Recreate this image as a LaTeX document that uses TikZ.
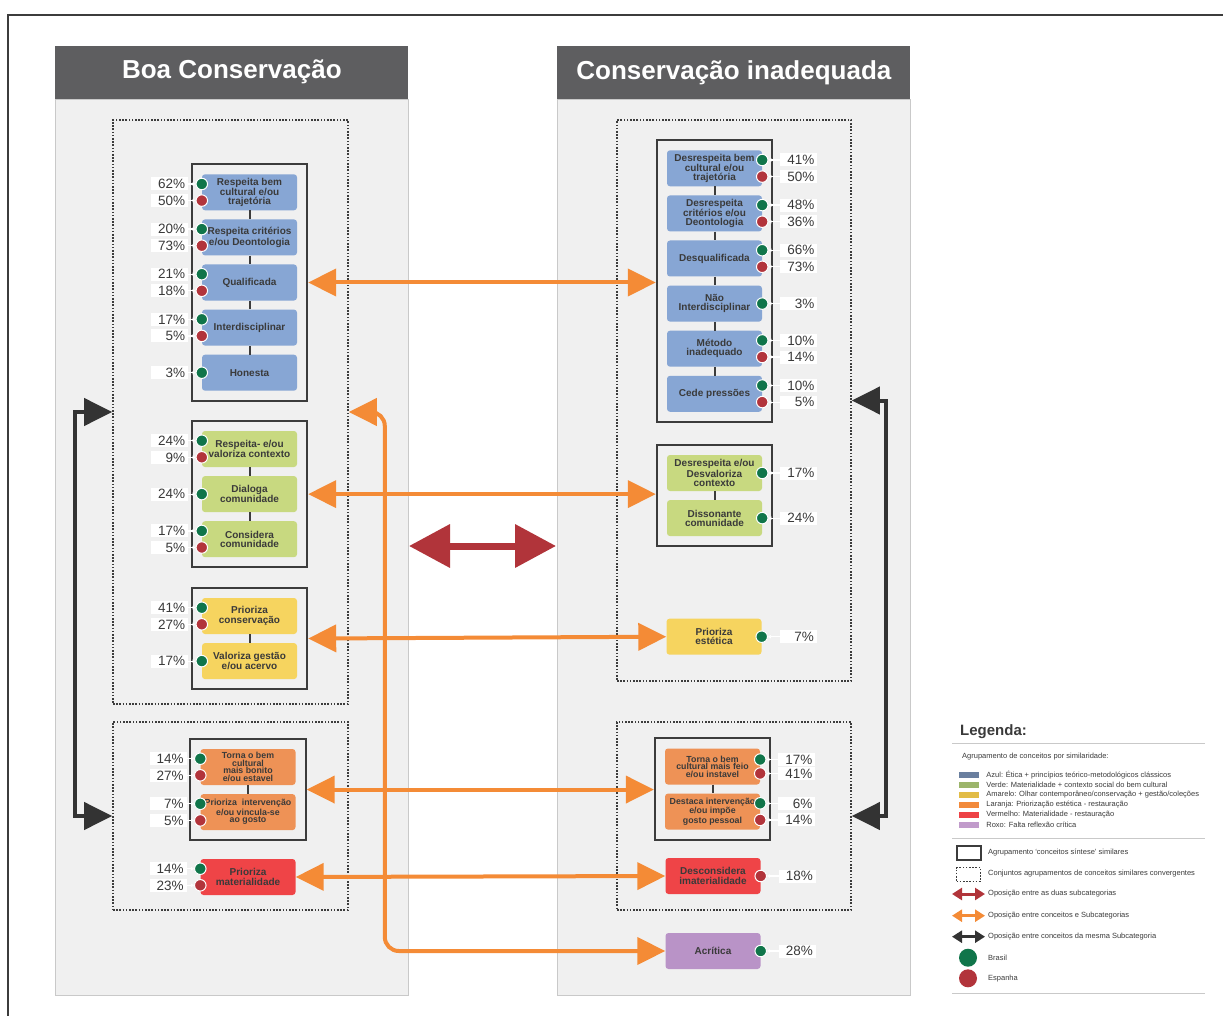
\documentclass[tikz,border=0pt]{standalone}
\usepackage{fontspec}
\setmainfont{Liberation Sans}
\usetikzlibrary{positioning,arrows.meta,calc,fit}
\definecolor{hdrGrey}{HTML}{5E5E60}
\definecolor{pnlGrey}{HTML}{F0F0F0}
\definecolor{pnlEdge}{HTML}{C9C9C9}
\definecolor{frmDark}{HTML}{3C3C3C}
\definecolor{txtDark}{HTML}{3A3A3A}
\definecolor{cBlue}{HTML}{87A6D4}
\definecolor{cGreen}{HTML}{C8D980}
\definecolor{cYellow}{HTML}{F6D45F}
\definecolor{cOrange}{HTML}{EE9256}
\definecolor{cRed}{HTML}{EF4447}
\definecolor{cPurple}{HTML}{B993C7}
\definecolor{dotG}{HTML}{10754A}
\definecolor{dotR}{HTML}{B2343B}
\definecolor{arrOrange}{HTML}{F48B36}
\definecolor{arrRed}{HTML}{B1343A}
\definecolor{arrDark}{HTML}{333333}
\definecolor{swBlue}{HTML}{6A7F9F}
\definecolor{swGreen}{HTML}{9CB56B}
\definecolor{swYellow}{HTML}{E2BC46}
\definecolor{swOrange}{HTML}{F28A3B}
\definecolor{swRed}{HTML}{EE4245}
\definecolor{swPurple}{HTML}{C19BCB}
\tikzset{
  panel/.style={draw=pnlEdge, line width=0.8pt, fill=pnlGrey, minimum width=353pt,
                minimum height=896pt, inner sep=0pt},
  hdr/.style={fill=hdrGrey, text=white, font=\fontsize{26}{26}\selectfont\bfseries,
              minimum width=353pt, minimum height=53pt, inner sep=0pt},
  cbox/.style={rounded corners=3pt, text=txtDark, font=\fontsize{10}{9.3}\selectfont\bfseries,
               align=center, minimum width=95pt, minimum height=36pt, inner sep=1pt},
  obox/.style={cbox, fill=cOrange, font=\fontsize{8.8}{7.6}\selectfont\bfseries},
  grp/.style={draw=frmDark, line width=2pt, inner sep=10pt},
  set/.style={draw=frmDark, line width=1.6pt, dash pattern=on 1.6pt off 1.6pt, inner sep=0pt},
  link/.style={draw=frmDark, line width=2pt},
  pdot/.style={circle, draw=white, line width=1pt, minimum size=11.5pt, inner sep=0pt},
  pct/.style={fill=white, text=txtDark, font=\fontsize{13.5}{13.5}\selectfont, text width=31pt,
              align=right, inner xsep=3pt, inner ysep=0pt, minimum height=13pt,
              text height=9.6pt, text depth=0pt},
  tick/.style={draw=white, line width=1.2pt, -{Latex[length=3pt,width=4pt]}},
  oarr/.style={draw=arrOrange, line width=4pt,
               {Triangle[length=28pt,width=27pt]}-{Triangle[length=28pt,width=27pt]}},
  karr/.style={draw=arrDark, line width=4pt,
               {Triangle[length=28pt,width=27pt]}-{Triangle[length=28pt,width=27pt]}},
  rarr/.style={draw=arrRed, line width=7pt,
               {Triangle[length=41pt,width=42pt]}-{Triangle[length=41pt,width=42pt]}},
  lgarr/.style={line width=3pt, {Triangle[length=10pt,width=12pt]}-{Triangle[length=10pt,width=12pt]}},
  lgtxt/.style={anchor=west, text=txtDark, font=\fontsize{7.5}{7.5}\selectfont, inner sep=0pt},
  swatch/.style={minimum width=20pt, minimum height=6pt, inner sep=0pt},
  lgline/.style={draw=pnlEdge, line width=1pt},
}
\begin{document}
\begin{tikzpicture}[x=1pt, y=-1pt]
\useasboundingbox (0,0) rectangle (1223,1016);
\draw[draw=frmDark, line width=2pt] (1223,15) -- (8,15) -- (8,1016);

% two columns
\node[panel, anchor=north west] (pnlL) at (55,99) {};
\node[panel, anchor=north west] (pnlR) at (557,99) {};
\node[hdr, anchor=south] (hdrL) at (pnlL.north) {Boa Conservação};
\node[hdr, anchor=south] (hdrR) at (pnlR.north) {Conservação inadequada};

\node[set, fit={(113,120) (348,704)}] (setA) {};
\node[set, fit={(113,722) (348,910)}] (setB) {};
\node[set, fit={(617,120) (851,681)}] (setC) {};
\node[set, fit={(617,722) (851,910)}] (setD) {};

% left column
\node[cbox, fill=cBlue] (bl1) at (249.5,192.3) {Respeita bem\\cultural e/ou\\trajetória};
\node[cbox, fill=cBlue, below=8.7pt of bl1] (bl2) {Respeita critérios\\e/ou Deontologia};
\node[cbox, fill=cBlue, below=8.7pt of bl2] (bl3) {Qualificada};
\node[cbox, fill=cBlue, below=8.7pt of bl3] (bl4) {Interdisciplinar};
\node[cbox, fill=cBlue, below=8.7pt of bl4] (bl5) {Honesta};
\node[cbox, fill=cGreen] (bl6) at (249.5,449) {Respeita- e/ou\\valoriza contexto};
\node[cbox, fill=cGreen, below=8.7pt of bl6] (bl7) {Dialoga\\comunidade};
\node[cbox, fill=cGreen, below=8.7pt of bl7] (bl8) {Considera\\comunidade};
\node[cbox, fill=cYellow] (bl9) at (249.5,616) {Prioriza\\conservação};
\node[cbox, fill=cYellow, below=8.7pt of bl9] (bl10) {Valoriza gestão\\e/ou acervo};
\node[obox] (bl11) at (248,767) {Torna o bem\\cultural\\mais bonito\\e/ou estavel};
\node[obox, below=8.7pt of bl11] (bl12) {Prioriza\ \ intervenção\\e/ou vincula-se\\ao gosto};
\node[cbox, fill=cRed] (bl13) at (248,877) {Prioriza\\materialidade};

% right column
\node[cbox, fill=cBlue] (br1) at (714.5,168.3) {Desrespeita bem\\cultural e/ou\\trajetória};
\node[cbox, fill=cBlue, below=8.7pt of br1] (br2) {Desrespeita\\critérios e/ou\\Deontologia};
\node[cbox, fill=cBlue, below=8.7pt of br2] (br3) {Desqualificada};
\node[cbox, fill=cBlue, below=8.7pt of br3] (br4) {Não\\Interdisciplinar};
\node[cbox, fill=cBlue, below=8.7pt of br4] (br5) {Método\\inadequado};
\node[cbox, fill=cBlue, below=8.7pt of br5] (br6) {Cede pressões};
\node[cbox, fill=cGreen] (br7) at (714.5,473) {Desrespeita e/ou\\Desvaloriza\\contexto};
\node[cbox, fill=cGreen, below=8.7pt of br7] (br8) {Dissonante\\comunidade};
\node[cbox, fill=cYellow] (br9) at (714,636.7) {Prioriza\\estética};
\node[obox] (br10) at (712.5,766.5) {Torna o bem\\cultural mais feio\\e/ou instavel};
\node[obox, below=8.7pt of br10] (br11) {Destaca intervenção\\e/ou impõe\\gosto pessoal};
\node[cbox, fill=cRed] (br12) at (713,876) {Desconsidera\\imaterialidade};
\node[cbox, fill=cPurple] (br13) at (713,951) {Acrítica};

\foreach \a/\b in {bl1/bl2, bl2/bl3, bl3/bl4, bl4/bl5, bl6/bl7, bl7/bl8, bl9/bl10, bl11/bl12,
                   br1/br2, br2/br3, br3/br4, br4/br5, br5/br6, br7/br8, br10/br11}
  \draw[link] (\a) -- (\b);

\node[grp, fit=(bl1) (bl5)] (gl1) {};
\node[grp, fit=(bl6) (bl8)] (gl2) {};
\node[grp, fit=(bl9) (bl10)] (gl3) {};
\node[grp, fit=(bl11) (bl12)] (gl4) {};
\node[grp, fit=(br1) (br6)] (gr1) {};
\node[grp, fit=(br7) (br8)] (gr2) {};
\node[grp, fit=(br10) (br11)] (gr3) {};

% Brasil / Espanha
\foreach \b/\dy/\c/\p [count=\i] in {bl1/-8.3/dotG/62, bl1/8.3/dotR/50, bl2/-8.3/dotG/20,
    bl2/8.3/dotR/73, bl3/-8.3/dotG/21, bl3/8.3/dotR/18, bl4/-8.3/dotG/17, bl4/8.3/dotR/5,
    bl5/0/dotG/3, bl6/-8.3/dotG/24, bl6/8.3/dotR/9, bl7/0/dotG/24, bl8/-8.3/dotG/17,
    bl8/8.3/dotR/5, bl9/-8.3/dotG/41, bl9/8.3/dotR/27, bl10/0/dotG/17, bl11/-8.3/dotG/14,
    bl11/8.3/dotR/27, bl12/-8.3/dotG/7, bl12/8.3/dotR/5, bl13/-8.3/dotG/14, bl13/8.3/dotR/23}{
  \node[pdot, fill=\c] (dl\i) at ($(\b.west)+(0,\dy)$) {};
  \node[pct, anchor=east] (pl\i) at ($(dl\i)+(-13.5,0)$) {\p\%};
  \draw[tick] (pl\i) -- (dl\i);
}
\foreach \b/\dy/\c/\p [count=\i] in {br1/-8.3/dotG/41, br1/8.3/dotR/50, br2/-8.3/dotG/48,
    br2/8.3/dotR/36, br3/-8.3/dotG/66, br3/8.3/dotR/73, br4/0/dotG/3, br5/-8.3/dotG/10,
    br5/8.3/dotR/14, br6/-8.3/dotG/10, br6/8.3/dotR/5, br7/0/dotG/17, br8/0/dotG/24,
    br9/0/dotG/7, br10/-7/dotG/17, br10/7/dotR/41, br11/-8.3/dotG/6, br11/8.3/dotR/14,
    br12/0/dotR/18, br13/0/dotG/28}{
  \node[pdot, fill=\c] (dr\i) at ($(\b.east)+(0,\dy)$) {};
  \node[pct, anchor=west] (pr\i) at ($(dr\i)+(18,0)$) {\p\%};
  \draw[tick] (pr\i) -- (dr\i);
}

% oppositions
\draw[oarr] (gl1.east) -- (gl1.east -| gr1.west);
\draw[oarr] (gl2.east) -- (gl2.east -| gr2.west);
\draw[oarr] (gl3.east) -- (br9.west);
\draw[oarr] (gl4.east) -- (gl4.east -| gr3.west);
\draw[oarr] (bl13.east) -- (br12.west);
\draw[oarr, rounded corners=14pt] (setA.east) -- ++(36,0) |- (br13.west);
\draw[karr] (setA.west) -- ++(-37,0) |- (setB.west);
\draw[karr] (setC.east) -- ++(34,0) |- (setD.east);
\coordinate (redL) at (409,546);
\coordinate (redR) at (556,546);
\draw[rarr] (redL) -- (redR);

% legend
\node[anchor=base west, text=txtDark, font=\fontsize{15}{15}\selectfont\bfseries, inner sep=0pt]
  (lgT) at (960,735.5) {Legenda:};
\draw[lgline] (952,743.5) -- (1205,743.5);
\node[lgtxt] (lgA) at (962,757) {Agrupamento de conceitos por similaridade:};
\foreach \c/\t [count=\i] in {swBlue/{Azul: Ética + princípios teórico-metodológicos clássicos},
    swGreen/{Verde: Materialidade + contexto social do bem cultural},
    swYellow/{Amarelo: Olhar contemporâneo/conservação + gestão/coleções},
    swOrange/{Laranja: Priorização estética - restauração},
    swRed/{Vermelho: Materialidade - restauração},
    swPurple/{Roxo: Falta reflexão crítica}}{
  \node[swatch, fill=\c] (sw\i) at (969,765+10*\i) {};
  \node[lgtxt, right=7pt of sw\i] (st\i) {\t};
}
\draw[lgline] (952,838) -- (1205,838);
\node[draw=frmDark, line width=2pt, minimum width=24pt, minimum height=14pt, inner sep=0pt]
  (lgS) at (968.5,852.5) {};
\node[lgtxt] (lgS1) at (988,852.5) {Agrupamento `conceitos síntese' similares};
\node[set, minimum width=24pt, minimum height=14pt] (lgD) at (968.5,874.5) {};
\node[lgtxt] (lgD1) at (988,873.5) {Conjuntos agrupamentos de conceitos similares convergentes};
\coordinate (lr1) at (952,894);   \coordinate (lr2) at (985,894);
\coordinate (lo1) at (952,915.7); \coordinate (lo2) at (985,915.7);
\coordinate (lk1) at (952,936.7); \coordinate (lk2) at (985,936.7);
\draw[lgarr, draw=arrRed] (lr1) -- (lr2);
\draw[lgarr, draw=arrOrange] (lo1) -- (lo2);
\draw[lgarr, draw=arrDark] (lk1) -- (lk2);
\node[lgtxt] (lgR) at (988,894) {Oposição entre as duas subcategorias};
\node[lgtxt] (lgO) at (988,915.7) {Oposição entre conceitos e Subcategorias};
\node[lgtxt] (lgK) at (988,936.7) {Oposição entre conceitos da mesma Subcategoria};
\node[circle, fill=dotG, minimum size=18pt, inner sep=0pt] (lgG) at (968,957.7) {};
\node[circle, fill=dotR, minimum size=18pt, inner sep=0pt] (lgE) at (968,978.3) {};
\node[lgtxt] (lgG1) at (988,957.7) {Brasil};
\node[lgtxt] (lgE1) at (988,978.3) {Espanha};
\draw[lgline] (952,993) -- (1205,993);
\end{tikzpicture}
\end{document}
